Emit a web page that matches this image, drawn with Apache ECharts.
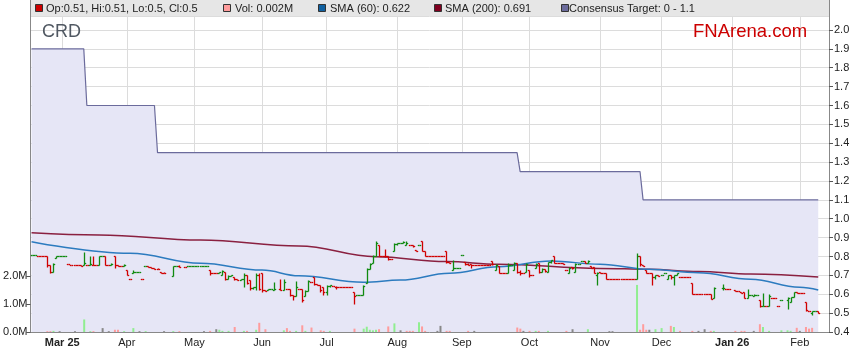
<!DOCTYPE html>
<html><head><meta charset="utf-8">
<script src="https://cdn.jsdelivr.net/npm/echarts@6/dist/echarts.min.js"></script>
<style>html,body{margin:0;padding:0;background:#fff}#c{width:859px;height:363px}</style>
</head><body><div id="c"></div>
<script>
// ---- categories: every weekday from 17 Feb 2025 to 13 Feb 2026 ----
const dates = [];
(function(){ const d = new Date(Date.UTC(2025,1,17)); while (dates.length < 260) { const wd = d.getUTCDay(); if (wd !== 0 && wd !== 6) dates.push(d.toISOString().slice(0,10)); d.setUTCDate(d.getUTCDate()+1); } })();

const monthLabels = {'2025-03-03':'Mar 25','2025-04-01':'Apr','2025-05-01':'May','2025-06-02':'Jun','2025-07-01':'Jul','2025-08-01':'Aug','2025-09-01':'Sep','2025-10-01':'Oct','2025-11-03':'Nov','2025-12-01':'Dec','2026-01-01':'Jan 26','2026-02-02':'Feb'};
const yearLabels = ['Mar 25','Jan 26'];

// ---- daily bars [open, high, low, close] (null = market closed) ----
const ohlc = [
[0.81,0.81,0.81,0.81],[0.81,0.81,0.81,0.81],[0.80,0.80,0.80,0.80],[0.80,0.80,0.80,0.80],[0.80,0.80,0.80,0.80],[0.80,0.80,0.746,0.755],[0.755,0.755,0.71,0.72],[0.72,0.765,0.72,0.76],[0.79,0.80,0.79,0.80],[0.80,0.80,0.80,0.80],
[0.80,0.80,0.80,0.80],[0.80,0.80,0.80,0.80],[0.76,0.76,0.76,0.76],[0.757,0.757,0.757,0.757],[0.757,0.757,0.757,0.757],[0.757,0.757,0.757,0.757],[0.757,0.757,0.75,0.75],[0.755,0.826,0.755,0.765],[0.757,0.757,0.757,0.757],[0.757,0.80,0.757,0.76],
[0.757,0.80,0.757,0.757],[0.757,0.757,0.755,0.755],[0.757,0.80,0.755,0.80],[0.80,0.80,0.80,0.80],[0.80,0.80,0.755,0.757],[0.757,0.757,0.757,0.757],[0.755,0.765,0.755,0.76],[0.80,0.80,0.74,0.755],[0.755,0.757,0.75,0.75],[0.75,0.75,0.75,0.75],
[0.75,0.76,0.75,0.757],[0.73,0.73,0.70,0.70],[0.68,0.68,0.68,0.68],[0.71,0.73,0.71,0.72],[0.72,0.72,0.72,0.72],[0.72,0.72,0.72,0.72],[0.68,0.68,0.68,0.68],[0.75,0.75,0.75,0.75],[0.75,0.75,0.745,0.745],[0.745,0.745,0.74,0.74],
[0.74,0.74,0.735,0.735],[0.735,0.74,0.735,0.735],[0.72,0.72,0.715,0.715],[0.715,0.72,0.715,0.715],null,null,[0.697,0.75,0.697,0.75],[0.75,0.75,0.75,0.75],[0.75,0.755,0.745,0.745],null,
[0.745,0.745,0.745,0.745],[0.75,0.75,0.75,0.75],[0.75,0.75,0.75,0.75],[0.75,0.75,0.75,0.75],[0.752,0.752,0.752,0.752],[0.752,0.752,0.752,0.752],[0.752,0.752,0.752,0.752],[0.752,0.752,0.752,0.752],[0.73,0.73,0.70,0.715],[0.715,0.715,0.715,0.715],
[0.715,0.715,0.715,0.715],[0.715,0.72,0.715,0.72],[0.70,0.73,0.70,0.725],[0.72,0.72,0.676,0.68],[0.68,0.70,0.68,0.695],[0.695,0.70,0.695,0.70],[0.69,0.69,0.675,0.68],[0.68,0.68,0.675,0.676],[0.676,0.68,0.676,0.68],[0.68,0.71,0.64,0.70],
[0.70,0.70,0.655,0.66],[0.675,0.675,0.62,0.635],[0.635,0.64,0.63,0.64],[0.64,0.71,0.62,0.70],[0.70,0.71,0.62,0.63],[0.71,0.71,0.61,0.62],[0.62,0.62,0.615,0.615],[0.62,0.63,0.62,0.63],[0.63,0.63,0.63,0.63],[0.625,0.665,0.625,0.63],
null,[0.63,0.68,0.62,0.625],[0.625,0.68,0.625,0.665],[0.63,0.63,0.63,0.63],[0.63,0.63,0.59,0.595],[0.595,0.595,0.57,0.59],[0.59,0.67,0.59,0.64],[0.63,0.63,0.63,0.63],[0.63,0.63,0.56,0.57],[0.59,0.62,0.59,0.617],
[0.617,0.675,0.617,0.67],[0.665,0.665,0.665,0.665],[0.69,0.69,0.65,0.655],[0.655,0.655,0.65,0.65],[0.65,0.65,0.61,0.62],[0.64,0.64,0.595,0.61],[0.61,0.65,0.595,0.645],[0.645,0.65,0.64,0.65],[0.645,0.645,0.645,0.645],[0.64,0.645,0.63,0.64],
[0.637,0.637,0.637,0.637],[0.637,0.637,0.637,0.637],[0.637,0.637,0.637,0.637],[0.637,0.637,0.637,0.637],[0.637,0.637,0.637,0.637],[0.61,0.61,0.55,0.59],[0.596,0.596,0.596,0.596],[0.596,0.596,0.596,0.596],[0.595,0.65,0.595,0.645],[0.66,0.74,0.658,0.735],
[0.735,0.765,0.735,0.76],[0.765,0.81,0.765,0.80],[0.80,0.88,0.80,0.87],[0.86,0.86,0.80,0.80],[0.80,0.80,0.80,0.80],[0.80,0.84,0.795,0.80],[0.80,0.80,0.78,0.785],[0.785,0.785,0.785,0.785],[0.83,0.87,0.83,0.865],[0.865,0.87,0.86,0.87],
[0.87,0.87,0.87,0.87],[0.87,0.88,0.87,0.875],[0.86,0.88,0.86,0.87],[0.86,0.86,0.86,0.86],[0.86,0.86,0.85,0.855],[0.835,0.835,0.83,0.83],[0.86,0.86,0.86,0.86],[0.88,0.88,0.83,0.83],[0.83,0.83,0.80,0.805],[0.80,0.80,0.80,0.80],
[0.80,0.80,0.80,0.80],[0.80,0.80,0.80,0.80],[0.80,0.80,0.80,0.80],[0.80,0.80,0.80,0.80],[0.80,0.80,0.80,0.80],[0.83,0.83,0.764,0.77],[0.77,0.77,0.765,0.767],[0.73,0.78,0.73,0.737],[0.737,0.737,0.737,0.737],[0.737,0.737,0.737,0.737],
[0.81,0.81,0.81,0.81],[0.77,0.77,0.755,0.76],[0.76,0.765,0.755,0.755],[0.76,0.76,0.74,0.755],[0.755,0.755,0.755,0.755],[0.755,0.755,0.755,0.755],[0.755,0.755,0.755,0.755],[0.755,0.755,0.755,0.755],[0.755,0.755,0.755,0.755],[0.755,0.755,0.755,0.755],
[0.778,0.778,0.755,0.76],[0.73,0.76,0.73,0.755],[0.75,0.75,0.714,0.714],[0.714,0.714,0.714,0.714],[0.714,0.714,0.714,0.714],[0.714,0.764,0.714,0.755],[0.755,0.755,0.755,0.755],[0.73,0.77,0.73,0.765],[0.765,0.765,0.714,0.72],[0.72,0.73,0.70,0.71],
[0.71,0.71,0.71,0.71],[0.72,0.764,0.72,0.76],[0.73,0.73,0.69,0.70],[0.70,0.70,0.70,0.70],[0.737,0.764,0.737,0.76],[0.767,0.767,0.71,0.72],[0.72,0.737,0.72,0.735],[0.735,0.735,0.72,0.725],[0.72,0.77,0.72,0.77],[0.77,0.78,0.765,0.78],
[0.80,0.80,0.764,0.765],[0.765,0.765,0.765,0.765],[0.765,0.765,0.765,0.765],[0.765,0.765,0.76,0.76],[0.73,0.73,0.73,0.73],[0.71,0.745,0.71,0.74],[0.745,0.745,0.735,0.74],[0.72,0.764,0.72,0.76],[0.76,0.76,0.76,0.76],[0.778,0.778,0.778,0.778],
[0.778,0.778,0.764,0.765],[0.764,0.78,0.764,0.778],[0.75,0.75,0.737,0.74],[0.745,0.745,0.71,0.71],[0.70,0.72,0.65,0.715],[0.72,0.72,0.71,0.715],[0.715,0.715,0.715,0.715],[0.715,0.715,0.68,0.68],[0.68,0.68,0.68,0.68],[0.68,0.68,0.68,0.68],
[0.68,0.68,0.68,0.68],[0.68,0.68,0.68,0.68],[0.68,0.68,0.68,0.68],[0.68,0.68,0.68,0.68],[0.68,0.68,0.68,0.68],[0.68,0.68,0.68,0.68],[0.68,0.68,0.68,0.68],[0.68,0.82,0.68,0.80],[0.80,0.80,0.75,0.76],[0.755,0.755,0.75,0.75],
[0.73,0.73,0.715,0.715],[0.715,0.715,0.715,0.715],[0.715,0.715,0.65,0.69],[0.69,0.70,0.68,0.70],[0.70,0.70,0.695,0.695],[0.70,0.70,0.70,0.70],[0.714,0.714,0.714,0.714],[0.68,0.70,0.68,0.70],[0.70,0.70,0.68,0.69],[0.69,0.70,0.65,0.70],
[0.70,0.71,0.70,0.71],[0.69,0.69,0.69,0.69],[0.69,0.69,0.69,0.69],[0.69,0.69,0.69,0.69],[0.69,0.69,0.69,0.69],[0.66,0.66,0.60,0.60],[0.60,0.60,0.60,0.60],[0.60,0.60,0.60,0.60],[0.60,0.60,0.60,0.60],[0.60,0.60,0.60,0.60],
[0.60,0.60,0.60,0.60],[0.60,0.60,0.573,0.575],[0.58,0.637,0.58,0.633],null,null,[0.633,0.653,0.623,0.635],[0.63,0.63,0.63,0.63],[0.628,0.628,0.628,0.628],null,[0.625,0.625,0.617,0.617],
[0.617,0.617,0.617,0.617],[0.614,0.614,0.605,0.605],[0.61,0.614,0.578,0.58],[0.58,0.63,0.578,0.595],[0.595,0.595,0.595,0.595],[0.59,0.60,0.59,0.595],[0.595,0.595,0.595,0.595],[0.57,0.57,0.534,0.537],[0.538,0.605,0.538,0.54],[0.538,0.538,0.538,0.538],
[0.538,0.60,0.538,0.59],[0.578,0.578,0.578,0.578],[0.578,0.578,0.578,0.578],[0.538,0.538,0.538,0.538],[0.57,0.57,0.57,0.57],null,[0.57,0.587,0.52,0.58],[0.56,0.587,0.56,0.587],[0.587,0.61,0.587,0.61],[0.61,0.612,0.605,0.608],
[0.608,0.608,0.608,0.608],[0.608,0.608,0.608,0.608],[0.56,0.56,0.513,0.515],[0.513,0.513,0.513,0.513],[0.50,0.513,0.49,0.51],[0.51,0.51,0.51,0.51],[0.51,0.51,0.50,0.50]
];

// ---- daily volume, millions ----
const volume = [
0,0,0,0,0,0.03,0.03,0.04,0,0.03,
0,0,0,0,0.03,0,0,0.45,0,0.03,
0.03,0,0,0.14,0,0.03,0,0.08,0.08,0,
0.03,0,0,0.14,0,0.03,0,0.03,0,0,
0,0,0,0.03,null,null,0.03,0,0.03,null,
0,0,0,0,0,0,0.03,0,0.04,0,
0.1,0.08,0.04,0,0.04,0,0.18,0,0,0.04,
0.04,0,0,0.08,0.33,0,0.1,0,0,0,
null,0,0.06,0.14,0.04,0,0.04,0,0.24,0.04,
0,0.16,0,0,0.06,0.04,0,0.04,0,0,
0,0,0,0,0,0.12,0,0,0.12,0.19,
0.08,0.06,0.08,0.1,0,0,0.2,0,0.31,0,
0.06,0,0.04,0.04,0.04,0,0.35,0.2,0.04,0,
0,0,0.04,0.22,0,0.04,0.04,0,0,0,
0,0,0.04,0,0.04,0,0,0,0,0,
0,0,0,0,0,0,0,0,0.16,0.12,
0.04,0,0.04,0,0.04,0.04,0,0,0.04,0,
0,0,0,0,0.04,0,0.1,0,0,0,
0,0.1,0,0,0,0,0,0,0.03,0.03,
0,0,0,0,0,0,0,1.69,0.08,0.28,
0.08,0.08,0,0.1,0,0.14,0,0,0.22,0.18,
0,0.04,0,0,0,0.04,0,0.04,0,0.1,
0,0.04,0.04,null,null,0,0,0,null,0.04,
0,0.04,0.04,0,0,0.04,0,0.28,0.18,0,
0.04,0,0,0,0.06,null,0.06,0.04,0,0.15,
0.04,0,0.18,0.12,0.15,0,0
];

// ---- moving averages and consensus target, [day index, value] ----
const sma60 = [[0,0.878],[32,0.817],[55,0.764],[75,0.728],[87,0.698],[108,0.663],[120,0.675],[136,0.711],[152,0.746],[169,0.776],[185,0.759],[201,0.732],[217,0.714],[234,0.679],[250,0.637],[256,0.622]];
const sma200 = [[0,0.926],[22,0.914],[55,0.887],[87,0.856],[112,0.799],[135,0.773],[152,0.759],[185,0.737],[201,0.732],[217,0.72],[234,0.707],[256,0.691]];
const target = [[0,1.9],[17,1.9],[18,1.6],[40,1.6],[41,1.35],[158,1.35],[159,1.25],[198,1.25],[199,1.1],[256,1.1]];

const priceTicks = {min:0.4, max:2.0, step:0.1};
const volTicks = {min:0, max:2, step:1};

// ---- derived colours ----
const GREEN = '#108a10', RED = '#d00000';
const barColors = [], volColors = [];
(function(){
  let prevC = null, prevUp = true;
  for (let i = 0; i < ohlc.length; i++) {
    const b = ohlc[i];
    if (!b) { barColors.push(null); volColors.push('#888'); continue; }
    const o = b[0], c = b[3];
    let up;
    if (c > o) up = true; else if (c < o) up = false;
    else if (prevC !== null && c > prevC) up = true;
    else if (prevC !== null && c < prevC) up = false;
    else up = prevUp;
    barColors.push(up ? GREEN : RED);
    let vc = '#888888';
    if (prevC !== null && c > prevC) vc = '#90ee90';
    else if (prevC !== null && c < prevC) vc = '#ff9c9c';
    volColors.push(vc);
    prevC = c; prevUp = up;
  }
})();

const ohlcData = [];
ohlc.forEach((b, i) => { if (b) ohlcData.push([i, b[0], b[1], b[2], b[3]]); });
const volData = volume.map((v, i) => (v === null ? null : { value: v, itemStyle: { color: volColors[i] } }));

const FONT = '"Liberation Sans", Arial, sans-serif';
const isMonth = (idx, val) => !!monthLabels[val];

const chart = echarts.init(document.getElementById('c'), null, {renderer: 'canvas'});
const legendItems = [
  {x:35, tx:46, color:'#cc0000', text:'Op:0.51, Hi:0.51, Lo:0.5, Cl:0.5'},
  {x:223, tx:235, color:'#ff9c9c', text:'Vol: 0.002M'},
  {x:318, tx:330, color:'#1060a0', text:'SMA (60): 0.622'},
  {x:434, tx:445, color:'#800020', text:'SMA (200): 0.691'},
  {x:561, tx:569, color:'#6b6b9c', text:'Consensus Target: 0 - 1.1'}
];
const graphics = [
  {type:'rect', shape:{x:30, y:0, width:800, height:16}, style:{fill:'#e6e6e6'}, z:10},
  {type:'line', shape:{x1:30.5, y1:0, x2:30.5, y2:16}, style:{stroke:'#888', lineWidth:1}, z:11},
  {type:'line', shape:{x1:829.5, y1:0, x2:829.5, y2:16}, style:{stroke:'#888', lineWidth:1}, z:11},
  {type:'text', x:42, y:32, style:{text:'CRD', font:'18px ' + FONT, fill:'#505862', verticalAlign:'middle'}, z:12},
  {type:'text', x:693, y:32, style:{text:'FNArena.com', font:'18.5px ' + FONT, fill:'#cc0000', verticalAlign:'middle'}, z:12}
];
legendItems.forEach(it => {
  graphics.push({type:'rect', shape:{x:it.x + 0.5, y:4.5, width:7, height:7}, style:{fill:it.color, stroke:'#333', lineWidth:1}, z:12});
  graphics.push({type:'text', x:it.tx, y:8.5, style:{text:it.text, font:'11px ' + FONT, fill:'#222', verticalAlign:'middle'}, z:12});
});

chart.setOption({
  animation: false,
  backgroundColor: '#fff',
  textStyle: { fontFamily: FONT },
  grid: [
    { left: 30, right: 30, top: 16, bottom: 31, containLabel: false },
    { left: 30, right: 30, top: 276.3, bottom: 31, containLabel: false }
  ],
  xAxis: [
    { type: 'category', gridIndex: 0, data: dates, boundaryGap: true,
      axisLine: { show: true, lineStyle: { color: '#888', width: 1 } },
      axisTick: { show: false, alignWithLabel: true },
      axisLabel: { interval: isMonth, margin: 5, fontSize: 11, color: '#222', fontFamily: FONT,
        formatter: v => { const l = monthLabels[v] || ''; return yearLabels.indexOf(l) >= 0 ? '{b|' + l + '}' : l; },
        rich: { b: { fontWeight: 'bold', fontSize: 11, color: '#222', fontFamily: FONT } } },
      splitLine: { show: true, interval: isMonth, alignWithLabel: true, lineStyle: { color: '#dcdcdc', width: 1 } }
    },
    { type: 'category', gridIndex: 1, data: dates, boundaryGap: true, show: false }
  ],
  yAxis: [
    { type: 'value', gridIndex: 0, position: 'right', min: priceTicks.min, max: 2.074, interval: priceTicks.step,
      axisLine: { show: true, lineStyle: { color: '#888' } },
      axisTick: { show: true, length: 4, lineStyle: { color: '#555' } },
      axisLabel: { showMaxLabel: false, margin: 5, fontSize: 11, color: '#222', fontFamily: FONT,
        formatter: v => (v > priceTicks.max + 1e-9 ? '' : v.toFixed(1)) },
      splitLine: { show: true, lineStyle: { color: '#dcdcdc', width: 1 } }
    },
    { type: 'value', gridIndex: 1, position: 'left', min: volTicks.min, max: volTicks.max, interval: volTicks.step,
      axisLine: { show: false },
      axisTick: { show: true, length: 4, lineStyle: { color: '#555' } },
      axisLabel: { margin: 3, fontSize: 11, color: '#222', fontFamily: FONT, formatter: v => v.toFixed(1) + 'M' },
      splitLine: { show: false }
    },
    { type: 'value', gridIndex: 0, position: 'left', min: priceTicks.min, max: 2.074,
      axisLine: { show: true, onZero: false, lineStyle: { color: '#888' } },
      axisTick: { show: false }, axisLabel: { show: false }, splitLine: { show: false }
    }
  ],
  series: [
    { name: 'Consensus Target', type: 'line', xAxisIndex: 0, yAxisIndex: 0, data: target, symbol: 'none', z: 1,
      lineStyle: { color: '#6b6b9c', width: 1.2 }, areaStyle: { color: '#e6e6f6', opacity: 1, origin: 'start' } },
    { name: 'Vol', type: 'bar', xAxisIndex: 1, yAxisIndex: 1, data: volData, barWidth: 2, z: 3 },
    { name: 'SMA (200)', type: 'line', xAxisIndex: 0, yAxisIndex: 0, data: sma200, symbol: 'none', smooth: 0.4, smoothMonotone: 'x', z: 4,
      lineStyle: { color: '#8a2040', width: 1.5 } },
    { name: 'SMA (60)', type: 'line', xAxisIndex: 0, yAxisIndex: 0, data: sma60, symbol: 'none', smooth: 0.4, smoothMonotone: 'x', z: 4,
      lineStyle: { color: '#2c7bbf', width: 1.5 } },
    { name: 'Price', type: 'custom', xAxisIndex: 0, yAxisIndex: 0, data: ohlcData, z: 5,
      encode: { x: 0, y: [1, 2, 3, 4] },
      renderItem: function (params, api) {
        const i = api.value(0);
        const pO = api.coord([i, api.value(1)]);
        const pH = api.coord([i, api.value(2)]);
        const pL = api.coord([i, api.value(3)]);
        const pC = api.coord([i, api.value(4)]);
        const x = Math.round(pO[0]) + 0.5;
        const col = barColors[i];
        const st = { stroke: col, lineWidth: 1.3 };
        const ry = y => Math.round(y) + 0.5;
        return { type: 'group', children: [
          { type: 'line', shape: { x1: x, y1: ry(pH[1]), x2: x, y2: ry(pL[1]) }, style: st },
          { type: 'line', shape: { x1: x - 1.7, y1: ry(pO[1]), x2: x, y2: ry(pO[1]) }, style: st },
          { type: 'line', shape: { x1: x, y1: ry(pC[1]), x2: x + 1.7, y2: ry(pC[1]) }, style: st }
        ] };
      }
    }
  ],
  graphic: graphics
});
</script>
</body></html>
